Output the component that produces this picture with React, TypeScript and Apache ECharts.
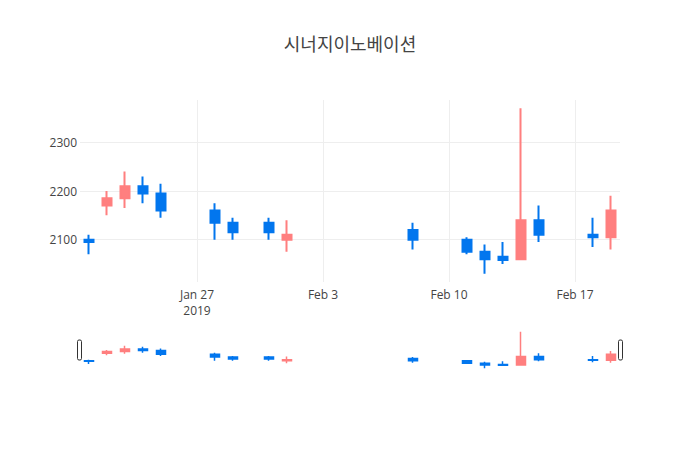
import React, { useEffect, useRef } from "react";
import * as echarts from "echarts";

const title = "시너지이노베이션";
const dates = [
  "2019-01-21", "2019-01-22", "2019-01-23", "2019-01-24", "2019-01-25",
  "2019-01-28", "2019-01-29", "2019-01-31", "2019-02-01", "2019-02-08",
  "2019-02-11", "2019-02-12", "2019-02-13", "2019-02-14", "2019-02-15",
  "2019-02-18", "2019-02-19",
];
const openVals = [2100, 2170, 2185, 2210, 2195, 2160, 2135, 2135, 2100, 2120, 2100, 2075, 2065, 2060, 2140, 2110, 2105];
const closeVals = [2095, 2185, 2210, 2195, 2160, 2135, 2115, 2115, 2110, 2100, 2075, 2060, 2058, 2140, 2110, 2105, 2160];
const lowVals = [2070, 2150, 2165, 2175, 2145, 2100, 2100, 2100, 2075, 2080, 2070, 2030, 2050, 2060, 2095, 2085, 2080];
const highVals = [2110, 2200, 2240, 2230, 2215, 2175, 2145, 2145, 2140, 2135, 2105, 2090, 2095, 2370, 2170, 2145, 2190];
const xTickDates = ["2019-01-27", "2019-02-03", "2019-02-10", "2019-02-17"];
const yTicks = [2100, 2200, 2300];

const BASE = Date.UTC(2019, 0, 20);
const DAY = 86400000;
const toDay = (s: string) => {
  const [y, m, d] = s.split("-").map(Number);
  return (Date.UTC(y, m - 1, d) - BASE) / DAY;
};
const MONTHS = ["Jan", "Feb", "Mar", "Apr", "May", "Jun", "Jul", "Aug", "Sep", "Oct", "Nov", "Dec"];

const UP = "#ff7f7f";
const DOWN = "#0276ee";
const FONT = '"Open Sans", "Noto Sans CJK KR", sans-serif';

export default function App() {
  const ref = useRef<HTMLDivElement>(null);
  useEffect(() => {
    document.body.style.margin = "0";
    if (!ref.current) return;
    const chart = echarts.init(ref.current, null, { renderer: "svg" });
    const data = dates.map((d, i) => [toDay(d), openVals[i], closeVals[i], lowVals[i], highVals[i]]);
    const xTicks = xTickDates.map(toDay);
    const xMin = toDay(dates[0]) - 0.5;
    const xMax = toDay(dates[dates.length - 1]) + 0.5;
    const yMin = 2013;
    const yMax = 2387;
    const fmtX = (v: number) => {
      const dt = new Date(BASE + Math.round(v) * DAY);
      const lbl = MONTHS[dt.getUTCMonth()] + " " + dt.getUTCDate();
      return Math.round(v) === xTicks[0] ? lbl + "\n" + dt.getUTCFullYear() : lbl;
    };
    const itemStyle = {
      color: UP,
      color0: DOWN,
      borderColor: UP,
      borderColor0: DOWN,
      borderWidth: 2,
    };
    chart.setOption({
      animation: false,
      backgroundColor: "#fff",
      textStyle: { fontFamily: FONT },
      title: {
        text: title,
        left: "center",
        top: 30,
        textStyle: { fontSize: 18, fontWeight: "normal", color: "#444", fontFamily: FONT },
      },
      grid: [
        { left: 80, width: 540, top: 100, height: 182 },
        { left: 80, width: 540, top: 330, height: 40 },
      ],
      xAxis: [
        {
          type: "value",
          gridIndex: 0,
          min: xMin,
          max: xMax,
          axisLine: { show: false },
          axisTick: { show: false, customValues: xTicks },
          axisLabel: {
            customValues: xTicks,
            formatter: fmtX,
            color: "#444",
            fontSize: 12,
            lineHeight: 16,
            margin: 4,
            fontFamily: FONT,
          },
          splitLine: { show: true, lineStyle: { color: "#eee", width: 1 } },
        },
        {
          type: "value",
          gridIndex: 1,
          min: xMin,
          max: xMax,
          show: false,
          splitLine: { show: false },
        },
      ],
      yAxis: [
        {
          type: "value",
          gridIndex: 0,
          min: yMin,
          max: yMax,
          axisLine: { show: false },
          axisTick: { show: false, customValues: yTicks },
          axisLabel: {
            customValues: yTicks,
            formatter: (v: number) => String(v),
            color: "#444",
            fontSize: 12,
            margin: 3,
            fontFamily: FONT,
          },
          splitLine: { show: true, lineStyle: { color: "#eee", width: 1 } },
        },
        {
          type: "value",
          gridIndex: 1,
          min: yMin,
          max: yMax,
          show: false,
          splitLine: { show: false },
        },
      ],
      series: [
        {
          type: "candlestick",
          xAxisIndex: 0,
          yAxisIndex: 0,
          barWidth: 9,
          encode: { x: 0, y: [1, 2, 3, 4] },
          itemStyle,
          data,
        },
        {
          type: "candlestick",
          xAxisIndex: 1,
          yAxisIndex: 1,
          barWidth: 9,
          encode: { x: 0, y: [1, 2, 3, 4] },
          itemStyle: { ...itemStyle, borderWidth: 1.5 },
          data,
        },
      ],
      graphic: [
        {
          type: "rect",
          shape: { x: 77.5, y: 340, width: 4, height: 20, r: 1.5 },
          style: { fill: "#fff", stroke: "#333", lineWidth: 1 },
        },
        {
          type: "rect",
          shape: { x: 618.5, y: 340, width: 4, height: 20, r: 1.5 },
          style: { fill: "#fff", stroke: "#333", lineWidth: 1 },
        },
      ],
    });
    return () => chart.dispose();
  }, []);
  return <div ref={ref} style={{ width: 700, height: 450 }} />;
}
